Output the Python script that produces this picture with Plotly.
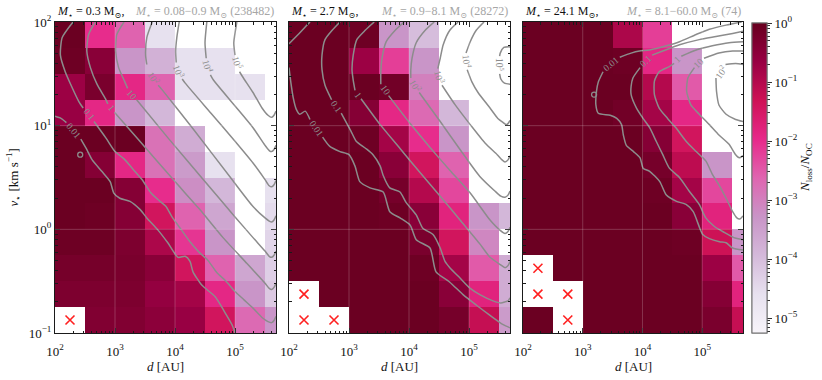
import math
import plotly.graph_objects as go

FONT = "Liberation Serif, DejaVu Serif, serif"

# ---------------- grid (log10 of cell edges) ----------------
D_EDGES_LOG = [2.0, 2.5, 3.0, 3.5, 4.0, 4.5, 5.0, 5.5, 6.0]
V_EDGES_LOG = [-1.0, -0.75, -0.5, -0.25, 0.0, 0.25, 0.5, 0.75, 1.0, 1.25, 1.5, 1.75, 2.0]

N = None   # no losses (white)
X = "x"    # empty cell marked with a red cross

# log10(N_loss / N_OC); rows listed from v = 10^2 (top) down to 10^-1 (bottom)
P1_LOGFRAC = [
    [-0.05, -2.0, -2.6, -4.6, N, N, N, N],
    [-0.1, -0.45, -3.3, -3.8, -4.6, -4.6, N, N],
    [-0.7, -0.25, -1.9, -2.6, -4.6, -4.6, -4.6, N],
    [-0.65, -1.9, -3.3, -3.9, N, N, N, N],
    [-0.05, -0.05, -0.05, -2.8, -3.7, N, N, N],
    [-0.05, -0.4, -1.9, -2.8, -3.4, -4.6, N, N],
    [-0.05, -0.05, -0.4, -2.0, -3.2, -3.9, N, -4.6],
    [-0.05, -0.1, -0.4, -1.4, -2.6, -3.6, N, -4.5],
    [-0.1, -0.1, -0.3, -0.9, -2.1, -3.3, N, -4.4],
    [-0.2, -0.2, -0.25, -0.45, -1.4, -2.6, -3.6, -4.3],
    [-0.3, -0.3, -0.3, -0.6, -0.8, -1.9, -3.3, -4.2],
    [X, -0.35, -0.35, -0.5, -0.65, -1.4, -2.7, -3.3],
]
P2_LOGFRAC = [
    [-0.05, -0.05, -0.1, -3.3, -4.0, N, N, N],
    [-0.05, -0.05, -0.7, -2.2, -3.3, N, N, N],
    [-0.05, -0.05, -0.05, -0.15, -3.0, N, N, N],
    [-0.05, -0.05, -0.4, -1.9, -2.7, -3.9, N, N],
    [-0.05, -0.05, -0.1, -0.8, -2.0, -3.3, N, N],
    [-0.05, -0.05, -0.05, -0.45, -1.4, -2.6, N, N],
    [-0.05, -0.05, -0.05, -0.2, -1.0, -2.3, N, N],
    [-0.05, -0.05, -0.05, -0.1, -0.45, -1.8, -3.3, -3.9],
    [-0.05, -0.05, -0.05, -0.05, -0.25, -1.4, -3.1, N],
    [-0.05, -0.05, -0.05, -0.05, -0.1, -0.8, -2.5, -3.7],
    [X, -0.05, -0.05, -0.05, -0.05, -0.45, -1.8, -3.7],
    [X, X, -0.05, -0.05, -0.05, -0.2, -1.2, -3.4],
]
P3_LOGFRAC = [
    [-0.05, -0.05, -0.05, -0.9, -2.2, N, N, N],
    [-0.05, -0.05, -0.05, -0.1, -1.9, -3.3, N, N],
    [-0.05, -0.05, -0.05, -0.05, -1.0, -2.5, N, N],
    [-0.05, -0.05, -0.05, -0.15, -0.8, -1.9, N, N],
    [-0.05, -0.05, -0.05, -0.05, -0.4, -1.4, N, N],
    [-0.05, -0.05, -0.05, -0.05, -0.2, -1.1, -3.3, N],
    [-0.05, -0.05, -0.05, -0.05, -0.1, -0.8, -2.3, N],
    [-0.05, -0.05, -0.05, -0.05, -0.05, -0.45, -1.8, N],
    [-0.05, -0.05, -0.05, -0.05, -0.05, -0.1, -1.3, -3.3],
    [X, -0.05, -0.05, -0.05, -0.05, -0.05, -0.7, -2.5],
    [X, X, -0.05, -0.05, -0.05, -0.05, -0.4, -1.8],
    [-0.05, X, -0.05, -0.05, -0.05, -0.05, -0.25, -1.2],
]

# ---------------- panel titles ----------------
M_STAR = ["0.3", "2.7", "24.1"]
M_RANGE = ["0.08\u22120.9", "0.9\u22128.1", "8.1\u221260.0"]
N_SYSTEMS = [238482, 28272, 74]

# axis tick decades
D_TICKS_LOG = [2, 3, 4, 5]
V_TICKS_LOG = [-1, 0, 1, 2]
CBAR_TICKS_LOG = [-5, -4, -3, -2, -1, 0]

# ---------------- contour lines: (log10 d, log10 v), None = gap ----------------
P1_C = [
    [(2.00, 1.09), (2.10, 1.07), (2.19, 1.03), None, (2.43, 0.87), (2.52, 0.78), (2.62, 0.67), (2.78, 0.56), (2.92, 0.46),
     (2.98, 0.35), (3.08, 0.30), (3.25, 0.27), (3.42, 0.19), (3.53, 0.11), (3.72, -0.01), (3.88, -0.13),
     (4.05, -0.27), (4.17, -0.26), (4.25, -0.31), (4.30, -0.41), (4.45, -0.54), (4.67, -0.65), (4.83, -0.80),
     (4.95, -0.92), (5.00, -1.00)],
    [(2.30, 2.00), (2.12, 1.85), (2.09, 1.68), (2.17, 1.52), (2.26, 1.40), (2.40, 1.23), (2.47, 1.17), None,
     (2.65, 1.04), (2.85, 0.88), (3.00, 0.75), (3.15, 0.68), (3.30, 0.58), (3.45, 0.48), (3.60, 0.35),
     (3.75, 0.27), (3.85, 0.22), (3.95, 0.12), (4.10, 0.00), (4.25, -0.12), (4.40, -0.22), (4.55, -0.30),
     (4.70, -0.42), (4.85, -0.50), (5.00, -0.60), (5.15, -0.68), (5.30, -0.76), (5.45, -0.85), (5.55, -0.89),
     (5.61, -0.90), (5.65, -0.88), (5.683, -0.84)],
    [(2.67, 2.00), (2.56, 1.88), (2.53, 1.72), (2.59, 1.56), (2.70, 1.40), (2.84, 1.26), (2.88, 1.21), None,
     (2.99, 1.13), (3.40, 0.86), (3.97, 0.48), (4.40, 0.20), (4.80, -0.08), (5.20, -0.33), (5.50, -0.52),
     (5.57, -0.57), (5.61, -0.58), (5.65, -0.56), (5.683, -0.52)],
    [(3.15, 2.00), (3.03, 1.88), (3.01, 1.72), (3.06, 1.56), (3.15, 1.44), (3.21, 1.36), None,
     (3.36, 1.25), (3.90, 0.87), (4.47, 0.48), (5.00, 0.12), (5.30, -0.08), (5.50, -0.21), (5.57, -0.26),
     (5.61, -0.27), (5.65, -0.25), (5.683, -0.21)],
    [(3.62, 2.00), (3.53, 1.85), (3.51, 1.68), (3.53, 1.59), None,
     (3.72, 1.39), (3.78, 1.35), (4.30, 0.97), (4.95, 0.48), (5.30, 0.22), (5.50, 0.11), (5.57, 0.08),
     (5.61, 0.07), (5.65, 0.09), (5.683, 0.13)],
    [(4.07, 2.00), (4.03, 1.85), (4.01, 1.72), (4.02, 1.61), None,
     (4.12, 1.45), (4.17, 1.41), (4.60, 1.12), (5.00, 0.85), (5.30, 0.64), (5.50, 0.48), (5.57, 0.42),
     (5.61, 0.41), (5.65, 0.43), (5.683, 0.47)],
    [(4.53, 2.00), (4.50, 1.80), (4.52, 1.65), None,
     (4.59, 1.49), (4.64, 1.44), (5.00, 1.19), (5.30, 0.98), (5.50, 0.81), (5.57, 0.76), (5.61, 0.75),
     (5.65, 0.77), (5.683, 0.81)],
    [(5.03, 2.00), (4.98, 1.80), (5.00, 1.68), None,
     (5.075, 1.52), (5.14, 1.46), (5.30, 1.32), (5.45, 1.17), (5.55, 1.10), (5.61, 1.08), (5.65, 1.10),
     (5.683, 1.14)],
]
P1_LOOPS = [(2.42, 0.72)]

P2_C = [
    [(2.00, 1.79), (2.12, 1.86), (2.22, 1.92), (2.30, 1.97), (2.35, 2.00)],
    [(2.00, 1.56), (2.03, 1.42), (2.07, 1.27), (2.12, 1.16), (2.18, 1.11), (2.27, 1.14), (2.35, 1.06), None,
     (2.56, 0.89), (2.68, 0.80), (2.85, 0.75), (3.00, 0.72), (3.10, 0.61), (3.18, 0.46), (3.35, 0.40),
     (3.57, 0.36), (3.68, 0.17), (3.85, 0.11), (4.02, 0.04), (4.12, -0.10), (4.35, -0.18), (4.45, -0.41),
     (4.68, -0.51), (4.90, -0.63), (5.12, -0.73), (5.35, -0.83), (5.57, -0.92), (5.683, -0.95)],
    [(2.85, 2.00), (2.72, 1.92), (2.60, 1.83), (2.55, 1.68), (2.55, 1.54), (2.60, 1.39), (2.71, 1.25), None,
     (2.87, 1.12), (3.03, 0.95), (3.12, 0.85), (3.28, 0.78), (3.40, 0.72), (3.52, 0.61), (3.57, 0.52),
     (3.68, 0.40), (3.85, 0.36), (3.95, 0.26), (4.12, 0.14), (4.23, 0.01), (4.40, -0.05), (4.52, -0.18),
     (4.60, -0.31), (4.68, -0.37), (4.85, -0.47), (5.02, -0.57), (5.18, -0.63), (5.40, -0.69), (5.53, -0.71),
     (5.60, -0.70), (5.65, -0.69), (5.683, -0.66)],
    [(3.42, 2.00), (3.27, 1.92), (3.13, 1.83), (3.07, 1.68), (3.05, 1.54), (3.07, 1.44), (3.10, 1.34), None,
     (3.20, 1.26), (3.52, 1.01), (3.85, 0.78), (4.18, 0.55), (4.52, 0.32), (4.85, 0.09), (5.18, -0.14),
     (5.35, -0.27), (5.52, -0.34), (5.60, -0.37), (5.65, -0.35), (5.683, -0.31)],
    [(3.92, 2.00), (3.77, 1.92), (3.62, 1.81), (3.55, 1.65), (3.53, 1.52), (3.53, 1.40), None,
     (3.66, 1.29), (4.02, 1.02), (4.35, 0.79), (4.68, 0.57), (5.02, 0.35), (5.35, 0.09), (5.52, -0.01),
     (5.60, -0.04), (5.65, -0.02), (5.683, 0.02)],
    [(4.42, 2.00), (4.27, 1.92), (4.12, 1.80), (4.05, 1.65), (4.03, 1.54), (4.03, 1.46), None,
     (4.17, 1.32), (4.52, 1.04), (4.85, 0.77), (5.18, 0.51), (5.43, 0.37), (5.53, 0.32), (5.60, 0.31),
     (5.65, 0.33), (5.683, 0.37)],
    [(4.82, 2.00), (4.68, 1.92), (4.57, 1.78), (4.52, 1.65), (4.48, 1.55), None,
     (4.55, 1.39), (4.77, 1.20), (5.02, 1.01), (5.27, 0.83), (5.47, 0.72), (5.55, 0.67), (5.60, 0.65),
     (5.65, 0.67), (5.683, 0.71)],
    [(5.25, 2.00), (5.12, 1.92), (5.02, 1.81), (4.95, 1.70), None,
     (4.97, 1.54), (5.05, 1.42), (5.15, 1.32), (5.35, 1.17), (5.48, 1.07), (5.57, 1.03), (5.62, 1.01),
     (5.65, 1.02), (5.683, 1.05)],
    [(5.683, 1.76), (5.58, 1.755), (5.52, 1.70), (5.51, 1.67), None,
     (5.51, 1.50), (5.53, 1.45), (5.59, 1.41), (5.683, 1.40)],
]
P2_LOOPS = []

P3_C = [
    [(5.66, 2.00), (5.40, 1.97), (5.12, 1.93), (4.90, 1.88), (4.62, 1.81), (4.40, 1.77), (4.12, 1.73),
     (3.95, 1.72), (3.81, 1.70), (3.62, 1.66), None,
     (3.34, 1.52), (3.26, 1.42), (3.23, 1.33), (3.22, 1.20), (3.26, 1.12), (3.46, 1.10), (3.57, 1.07),
     (3.65, 1.01), (3.68, 0.91), (3.73, 0.81), (3.85, 0.75), (3.96, 0.69), (4.01, 0.59), (4.12, 0.56),
     (4.29, 0.46), (4.40, 0.33), (4.57, 0.27), (4.73, 0.24), (4.85, 0.17), (4.96, 0.01), (5.01, -0.05),
     (5.12, -0.09), (5.29, -0.12), (5.40, -0.13), (5.51, -0.18), (5.683, -0.20)],
    [(5.683, 1.91), (5.51, 1.89), (5.23, 1.86), (4.95, 1.83), (4.62, 1.78), (4.34, 1.72), (4.16, 1.68), None,
     (3.96, 1.56), (3.84, 1.46), (3.81, 1.38), (3.81, 1.30), (3.90, 1.17), (4.01, 1.07), (4.12, 0.98),
     (4.23, 0.85), (4.34, 0.72), (4.45, 0.59), (4.62, 0.50), (4.78, 0.37), (4.95, 0.24), (5.06, 0.11),
     (5.20, 0.03), (5.37, -0.03), (5.53, -0.08), (5.683, -0.10)],
    [(5.683, 1.81), (5.45, 1.80), (5.17, 1.77), (4.90, 1.73), (4.65, 1.67), None,
     (4.53, 1.60), (4.45, 1.57), (4.28, 1.52), (4.20, 1.43), (4.20, 1.30), (4.28, 1.17), (4.42, 1.07),
     (4.56, 0.98), (4.73, 0.85), (4.90, 0.75), (5.06, 0.66), (5.17, 0.53), (5.28, 0.43), (5.40, 0.30),
     (5.51, 0.17), (5.58, 0.11), (5.63, 0.10), (5.683, 0.13)],
    [(5.683, 1.72), (5.51, 1.72), (5.28, 1.70), (5.03, 1.65), None,
     (4.87, 1.56), (4.76, 1.46), (4.74, 1.33), (4.81, 1.20), (4.95, 1.11), (5.12, 1.01), (5.28, 0.91),
     (5.45, 0.82), (5.56, 0.72), (5.62, 0.69), (5.683, 0.71)],
    [(5.683, 1.59), (5.56, 1.60), (5.39, 1.59), None,
     (5.23, 1.46), (5.24, 1.33), (5.28, 1.20), (5.40, 1.11), (5.56, 1.06), (5.683, 1.04)],
]
P3_LOOPS = [(3.19, 1.30)]

# contour labels: (text, log10 d, log10 v)
P1_LABELS = [("0.01", 2.31, 0.95), ("0.1", 2.56, 1.11), ("1", 2.94, 1.17), ("10", 3.28, 1.30),
             ("10<sup>2</sup>", 3.645, 1.46), ("10<sup>3</sup>", 4.07, 1.52), ("10<sup>4</sup>", 4.555, 1.57),
             ("10<sup>5</sup>", 5.04, 1.60)]
P2_LABELS = [("0.01", 2.46, 0.97), ("0.1", 2.79, 1.18), ("1", 3.15, 1.30), ("10", 3.60, 1.34),
             ("10<sup>2</sup>", 4.10, 1.39), ("10<sup>3</sup>", 4.51, 1.47), ("10<sup>4</sup>", 4.96, 1.62),
             ("10<sup>5</sup>", 5.51, 1.59)]
P3_LABELS = [("0.01", 3.48, 1.59), ("0.1", 4.06, 1.62), ("1", 4.59, 1.64), ("10", 4.95, 1.60),
             ("10<sup>2</sup>", 5.31, 1.52)]
# label rotation (styling)
P1_ANGLES = [50, 50, 50, 50, 60, 70, 75, 75]
P2_ANGLES = [55, 55, 55, 55, 60, 75, 85, 90]
P3_ANGLES = [-40, -45, -45, -45, -55]

# ---------------- layout geometry (window pixels) ----------------
W, H = 822, 380
PANEL_X = [(55, 276), (289, 510), (523, 743)]
PLOT_TOP, PLOT_BOT = 22, 333
X_RANGE = [2.0, 5.683]
Y_RANGE = [-1.0, 2.0]


def fx(px):
    return px / W


def fy(py):
    return 1 - py / H


CMIN, CMAX = -5.25, 0.0
LINE_GREY = "#8c8c8c"
AX_COL = "#1a1a1a"


def sup_label(e):
    return "10<sup>%s</sup>" % str(e).replace("-", "\u2212")


def minor_vals(lo, hi):
    out = []
    for e in range(math.floor(lo) - 1, math.ceil(hi) + 1):
        for m in range(2, 10):
            v = e + math.log10(m)
            if lo <= v <= hi:
                out.append(v)
    return out


panels = [
    (P1_LOGFRAC, P1_C, P1_LOOPS, P1_LABELS, P1_ANGLES),
    (P2_LOGFRAC, P2_C, P2_LOOPS, P2_LABELS, P2_ANGLES),
    (P3_LOGFRAC, P3_C, P3_LOOPS, P3_LABELS, P3_ANGLES),
]

fig = go.Figure()
annotations = []
shapes = []

for k, (grid, contours, loops, labels, angles) in enumerate(panels):
    sfx = "" if k == 0 else str(k + 1)
    xa, ya = "x" + sfx, "y" + sfx
    rows = list(reversed(grid))  # bottom -> top
    z = [[v if isinstance(v, (int, float)) else None for v in r] for r in rows]
    fig.add_trace(go.Heatmap(x=D_EDGES_LOG, y=V_EDGES_LOG, z=z, coloraxis="coloraxis",
                             xaxis=xa, yaxis=ya, hoverinfo="skip"))
    # faint major grid lines over the cells
    for gx in D_TICKS_LOG[1:]:
        shapes.append(dict(type="line", xref=xa, yref=ya + " domain", x0=gx, x1=gx, y0=0, y1=1,
                           line=dict(color="rgba(255,255,255,0.2)", width=1), layer="above"))
    for gy in V_TICKS_LOG[1:-1]:
        shapes.append(dict(type="line", xref=xa + " domain", yref=ya, x0=0, x1=1, y0=gy, y1=gy,
                           line=dict(color="rgba(255,255,255,0.2)", width=1), layer="above"))
    # contours
    for c in contours:
        xs = [p[0] if p is not None else None for p in c]
        ys = [p[1] if p is not None else None for p in c]
        fig.add_trace(go.Scatter(x=xs, y=ys, mode="lines", xaxis=xa, yaxis=ya,
                                 line=dict(color=LINE_GREY, width=1.5, shape="spline", smoothing=0.6),
                                 connectgaps=False, showlegend=False, hoverinfo="skip"))
    if loops:
        fig.add_trace(go.Scatter(x=[p[0] for p in loops], y=[p[1] for p in loops],
                                 mode="markers", xaxis=xa, yaxis=ya,
                                 marker=dict(symbol="circle-open", size=5, color=LINE_GREY,
                                             line=dict(width=1.3, color=LINE_GREY)),
                                 showlegend=False, hoverinfo="skip"))
    # crosses for empty cells
    cx, cy = [], []
    for i, r in enumerate(rows):
        for j, v in enumerate(r):
            if v == X:
                cx.append((D_EDGES_LOG[j] + D_EDGES_LOG[j + 1]) / 2)
                cy.append((V_EDGES_LOG[i] + V_EDGES_LOG[i + 1]) / 2)
    fig.add_trace(go.Scatter(x=cx, y=cy, mode="markers", xaxis=xa, yaxis=ya,
                             marker=dict(symbol="x-thin", size=9, line=dict(width=1.6, color="#ff2020")),
                             showlegend=False, hoverinfo="skip"))
    # contour labels
    for (txt, lx, ly), ang in zip(labels, angles):
        annotations.append(dict(x=lx, y=ly, xref=xa, yref=ya, text=txt, showarrow=False,
                                textangle=ang, font=dict(family=FONT, size=9.5, color=LINE_GREY),
                                xanchor="center", yanchor="middle"))
    # titles (placed by paper coordinates so the text sits fully above the panel)
    annotations.append(dict(x=0, y=fy(12), xref=xa + " domain", yref="paper",
                            text="<i>M</i><sub>\u22c6</sub> = %s M<sub>\u2299</sub>," % M_STAR[k],
                            showarrow=False, xanchor="left", yanchor="middle",
                            font=dict(family=FONT, size=12, color="#111")))
    annotations.append(dict(x=1, y=fy(12), xref=xa + " domain", yref="paper",
                            text="<i>M</i><sub>\u22c6</sub> = %s M<sub>\u2299</sub> (%d)" % (M_RANGE[k], N_SYSTEMS[k]),
                            showarrow=False, xanchor="right", yanchor="middle",
                            font=dict(family=FONT, size=12, color="#a6a6a6")))
    annotations.append(dict(x=0.5, y=fy(366), xref=xa + " domain", yref="paper",
                            text="<i>d</i> [AU]", showarrow=False, xanchor="center", yanchor="middle",
                            font=dict(family=FONT, size=13, color="#111")))

annotations.append(dict(x=fx(14), y=fy((PLOT_TOP + PLOT_BOT) / 2), xref="paper", yref="paper",
                        text="<i>v</i><sub>\u22c6</sub> [km s<sup>\u22121</sup>]", showarrow=False,
                        textangle=-90, xanchor="center", yanchor="middle",
                        font=dict(family=FONT, size=13, color="#111")))
annotations.append(dict(x=fx(805), y=fy(168), xref="paper", yref="paper",
                        text="<i>N</i><sub>loss</sub>/<i>N</i><sub>OC</sub>", showarrow=False,
                        textangle=-90, xanchor="center", yanchor="middle",
                        font=dict(family=FONT, size=13, color="#111")))

# dummy trace carrying the colour bar's minor ticks
fig.add_trace(go.Scatter(x=[None], y=[None], mode="markers", xaxis="x", yaxis="y",
                         marker=dict(color=[-1.0], coloraxis="coloraxis2"),
                         showlegend=False, hoverinfo="skip"))

axis_common = dict(ticks="inside", ticklen=5, tickwidth=1, tickcolor=AX_COL, showline=True,
                   linecolor=AX_COL, linewidth=1, mirror="ticks", showgrid=False, zeroline=False,
                   automargin=False, type="linear", tickmode="array",
                   tickfont=dict(family=FONT, size=13, color="#111"))

layout = dict(width=W, height=H, margin=dict(l=0, r=0, t=0, b=0, autoexpand=False), plot_bgcolor="white",
              paper_bgcolor="white", showlegend=False, annotations=annotations, shapes=shapes)
ydom = [fy(PLOT_BOT), fy(PLOT_TOP)]
for k, (x0, x1) in enumerate(PANEL_X):
    sfx = "" if k == 0 else str(k + 1)
    layout["xaxis" + sfx] = dict(axis_common, domain=[fx(x0), fx(x1)], range=X_RANGE,
                                 anchor="y" + sfx, tickvals=D_TICKS_LOG, ticklabelstandoff=6,
                                 ticktext=[sup_label(e) for e in D_TICKS_LOG],
                                 minor=dict(tickmode="array", tickvals=minor_vals(*X_RANGE), ticks="inside",
                                            ticklen=2.5, tickcolor=AX_COL, showgrid=False))
    layout["yaxis" + sfx] = dict(axis_common, domain=ydom, range=Y_RANGE, anchor="x" + sfx,
                                 tickvals=V_TICKS_LOG, ticktext=[sup_label(e) for e in V_TICKS_LOG],
                                 showticklabels=(k == 0),
                                 minor=dict(tickmode="array", tickvals=minor_vals(*Y_RANGE), ticks="inside",
                                            ticklen=2.5, tickcolor=AX_COL, showgrid=False))

cb_common = dict(x=fx(752), xanchor="left", xref="paper", y=fy((PLOT_TOP + 1 + PLOT_BOT) / 2),
                 yanchor="middle", len=(PLOT_BOT - PLOT_TOP - 1) / H, lenmode="fraction",
                 thickness=15, xpad=0, ypad=0, outlinewidth=1, outlinecolor="#6e6e6e",
                 tickmode="array", ticks="outside", tickcolor="#333", tickwidth=1)
layout["coloraxis"] = dict(colorscale="PuRd", cmin=CMIN, cmax=CMAX,
                           colorbar=dict(cb_common, tickvals=CBAR_TICKS_LOG,
                                         ticktext=[sup_label(e) for e in CBAR_TICKS_LOG],
                                         ticklen=5, tickfont=dict(family=FONT, size=13, color="#111")))
layout["coloraxis2"] = dict(colorscale="PuRd", cmin=CMIN, cmax=CMAX,
                            colorbar=dict(cb_common, tickvals=minor_vals(CMIN, CMAX),
                                          ticklen=2.5, showticklabels=False))
fig.update_layout(**layout)
# the page's default 8px body margin would push the 822x380 figure out of the window
fig.write_html("out.html", config={"displayModeBar": False},
               post_script="document.body.style.margin='0';")
